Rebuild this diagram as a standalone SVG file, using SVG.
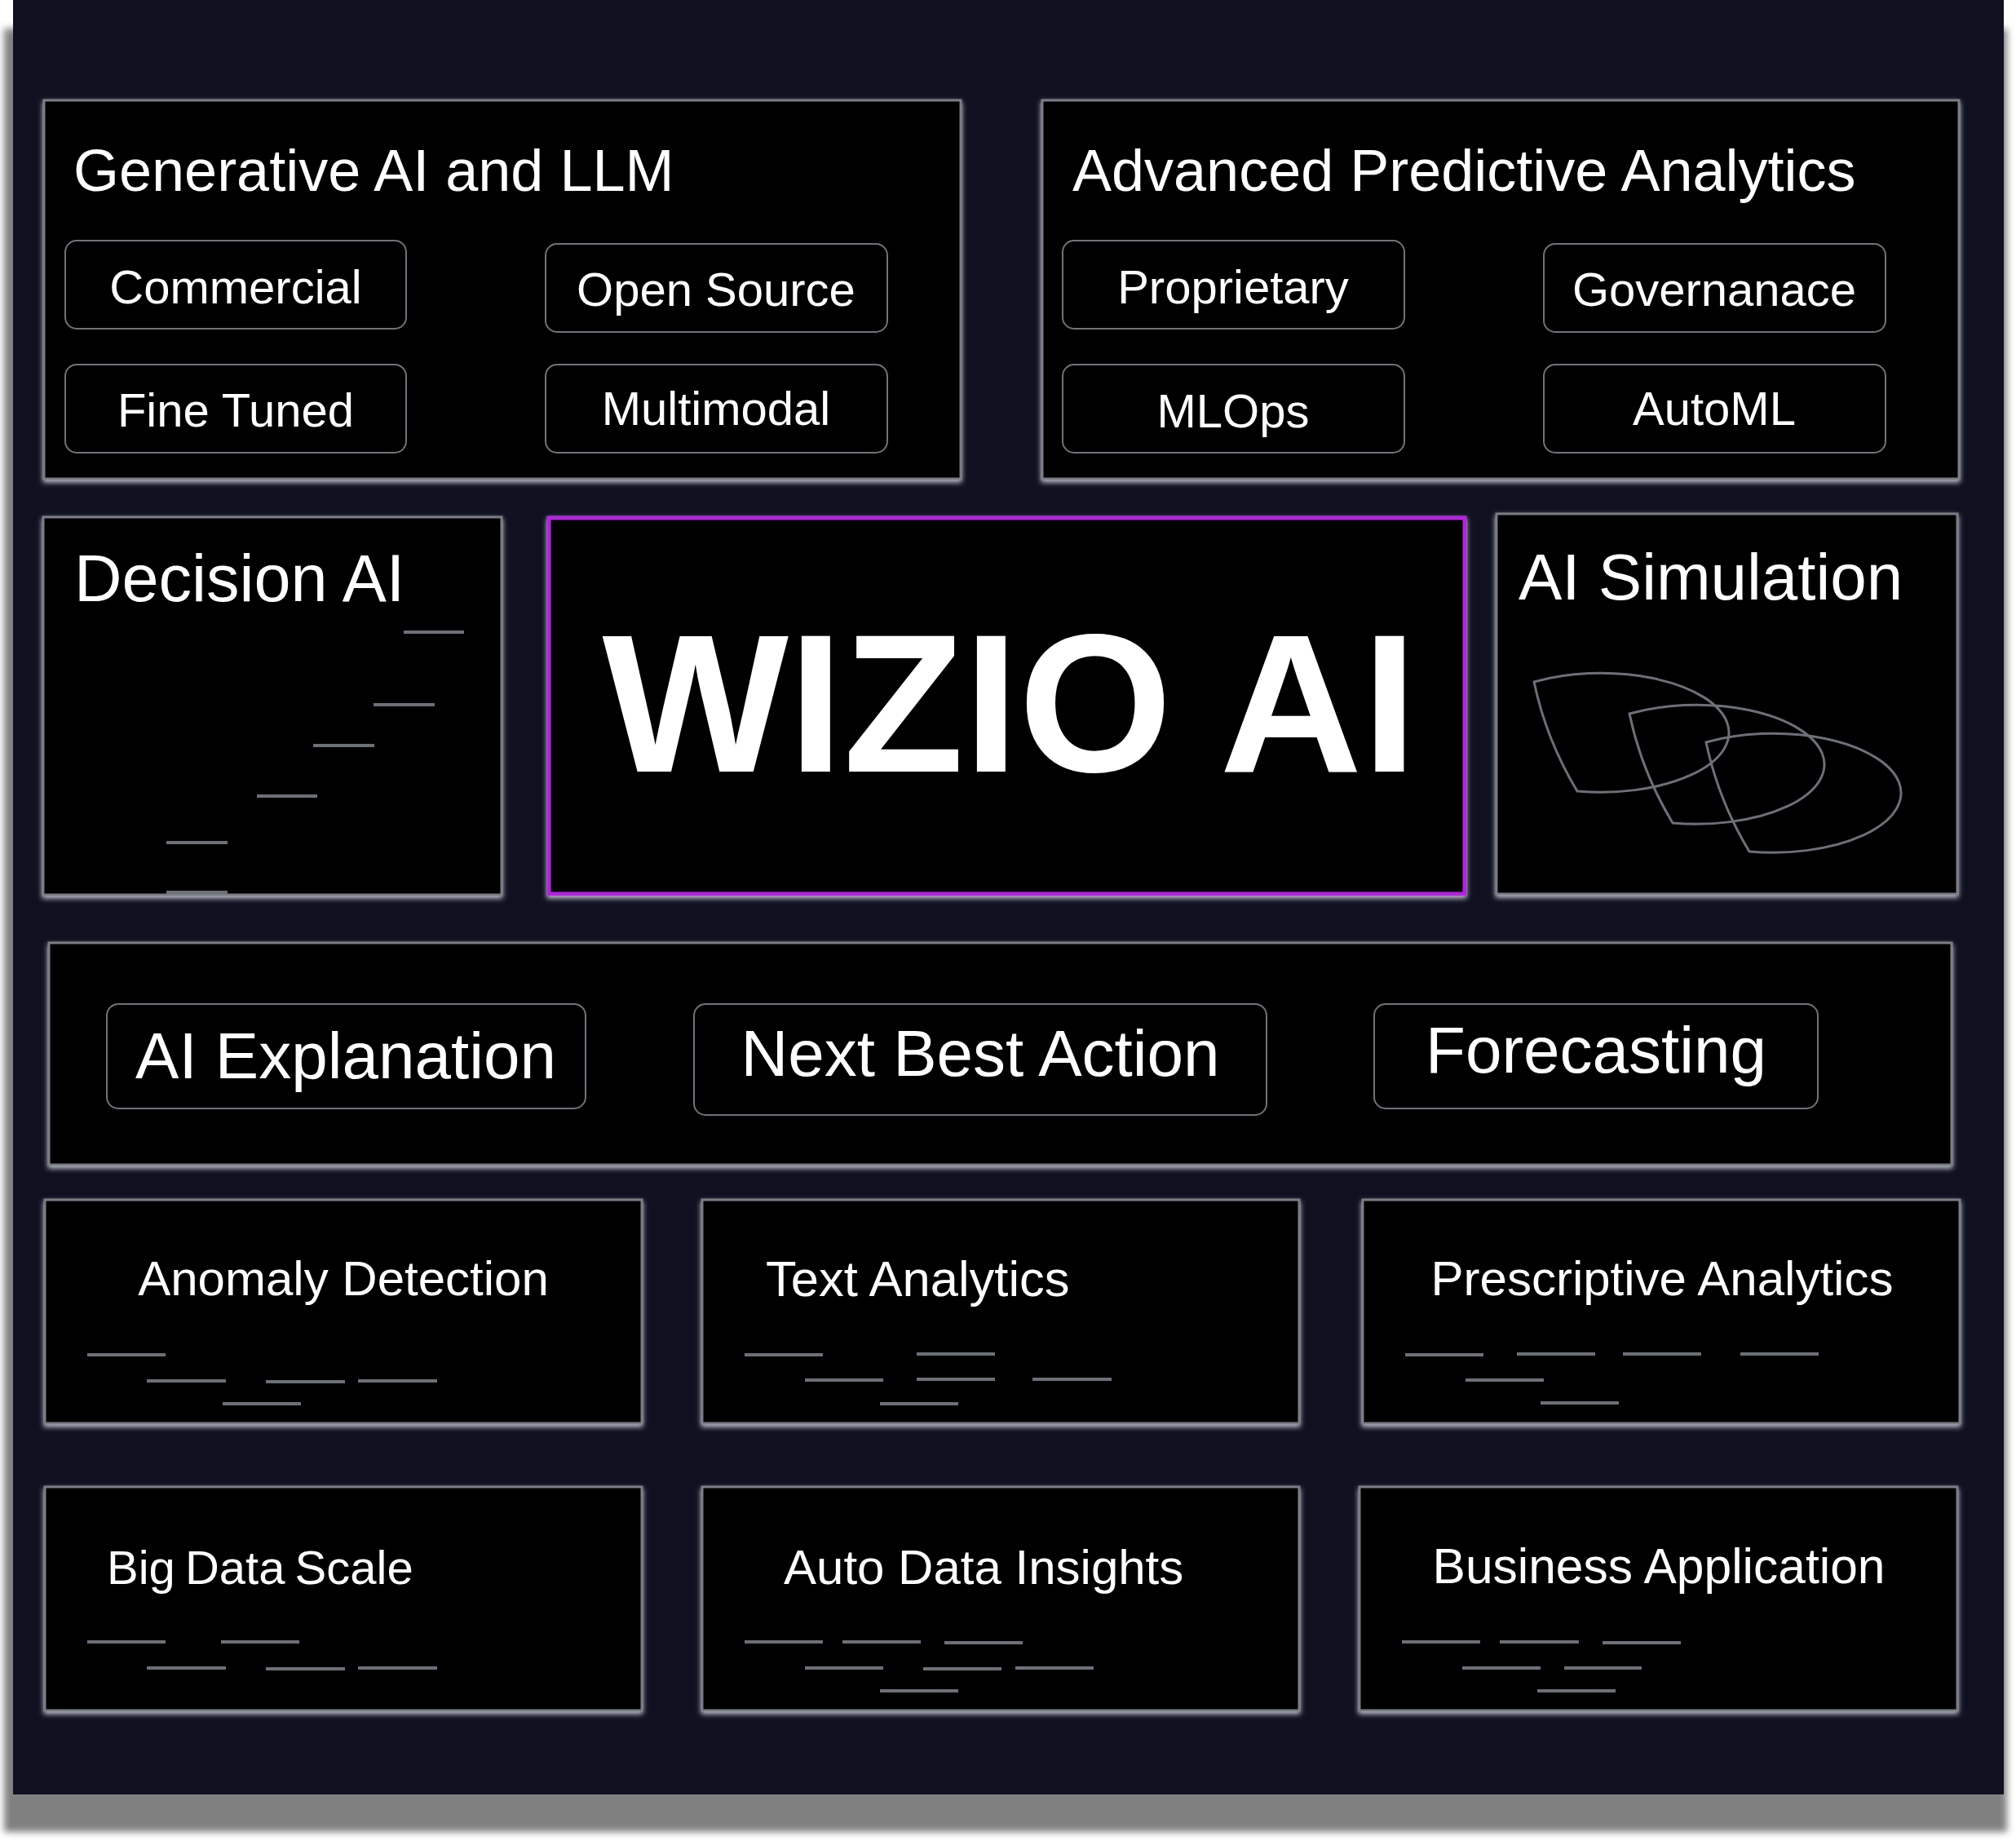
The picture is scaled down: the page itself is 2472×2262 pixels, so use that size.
<svg xmlns="http://www.w3.org/2000/svg" xmlns:xlink="http://www.w3.org/1999/xlink" width="2472" height="2262" viewBox="0 0 2472 2262">
<defs>
<filter id="panelShadow" x="-5%" y="-5%" width="110%" height="110%">
<feGaussianBlur stdDeviation="4"/>
</filter>
<filter id="glow" x="-5%" y="-10%" width="110%" height="125%">
<feDropShadow dx="0" dy="3" stdDeviation="3" flood-color="#e2e3ee" flood-opacity="0.85"/>
</filter>
<path id="leaf" d="M1881 836 A157 73 0 1 1 1934 970 Q1896 907 1881 836 Z"/>
<style>
.box{fill:#000002;stroke:#7a7d84;stroke-width:3;filter:url(#glow)}
.sub{fill:#000;stroke:#707378;stroke-width:2}
.t{font-family:"Liberation Sans",Arial,Helvetica,sans-serif;fill:#ffffff}
.h1{font-size:72px}
.h2{font-size:80px}
.h3{font-size:60px}
.s{font-size:58px;text-anchor:middle}
.m{text-anchor:middle}
.dash{stroke:#6c7077;stroke-width:4}
.leaf{fill:none;stroke:#6c7077;stroke-width:3}
</style>
</defs>
<rect x="5" y="35" width="2456" height="2211" fill="#808080" filter="url(#panelShadow)"/>
<rect x="16" y="0" width="2441" height="2200" fill="#0f1020"/>

<g id="generative-ai">
<rect class="box" x="54" y="123" width="1124" height="464"/>
<text class="t h1" x="90" y="234" font-size="72.5">Generative AI and LLM</text>
<g id="commercial"><rect class="sub" x="80" y="295" width="418" height="108" rx="14"/><text class="t s" x="289" y="372">Commercial</text></g>
<g id="open-source"><rect class="sub" x="669" y="299" width="419" height="108" rx="14"/><text class="t s" x="878" y="375">Open Source</text></g>
<g id="fine-tuned"><rect class="sub" x="80" y="447" width="418" height="108" rx="14"/><text class="t s" x="289" y="523">Fine Tuned</text></g>
<g id="multimodal"><rect class="sub" x="669" y="447" width="419" height="108" rx="14"/><text class="t s" x="878" y="521">Multimodal</text></g>
</g>

<g id="predictive-analytics">
<rect class="box" x="1278" y="123" width="1124" height="464"/>
<text class="t h1" x="1315" y="234">Advanced Predictive Analytics</text>
<g id="proprietary"><rect class="sub" x="1303" y="295" width="419" height="108" rx="14"/><text class="t s" x="1512" y="372">Proprietary</text></g>
<g id="governanace"><rect class="sub" x="1893" y="299" width="419" height="108" rx="14"/><text class="t s" x="2102" y="375">Governanace</text></g>
<g id="mlops"><rect class="sub" x="1303" y="447" width="419" height="108" rx="14"/><text class="t s" x="1512" y="524">MLOps</text></g>
<g id="automl"><rect class="sub" x="1893" y="447" width="419" height="108" rx="14"/><text class="t s" x="2102" y="521">AutoML</text></g>
</g>

<g id="decision-ai">
<rect class="box" x="53" y="634" width="562" height="463"/>
<text class="t" x="91" y="737" font-size="81">Decision AI</text>
<line class="dash" x1="495" y1="775" x2="569" y2="775"/>
<line class="dash" x1="458" y1="864" x2="533" y2="864"/>
<line class="dash" x1="384" y1="914" x2="459" y2="914"/>
<line class="dash" x1="315" y1="976" x2="389" y2="976"/>
<line class="dash" x1="204" y1="1033" x2="279" y2="1033"/>
<line class="dash" x1="204" y1="1094" x2="279" y2="1094"/>
</g>

<g id="wizio-ai">
<rect x="673" y="635" width="1123" height="461" fill="#000002" stroke="#b424e0" stroke-width="5" filter="url(#glow)"/>
<text class="t m" x="1238" y="946" font-size="242" font-weight="bold">WIZIO AI</text>
</g>

<g id="ai-simulation">
<rect class="box" x="1835" y="630" width="565" height="466"/>
<text class="t h2" x="1862" y="735">AI Simulation</text>
<use class="leaf" xlink:href="#leaf" href="#leaf"/>
<use class="leaf" xlink:href="#leaf" href="#leaf" transform="translate(117 39)"/>
<use class="leaf" xlink:href="#leaf" href="#leaf" transform="translate(211 74)"/>
</g>

<g id="capabilities">
<rect class="box" x="60" y="1156" width="2333" height="272"/>
<g id="ai-explanation"><rect class="sub" x="131" y="1231" width="587" height="128" rx="14"/><text class="t h2 m" x="424" y="1322">AI Explanation</text></g>
<g id="next-best-action"><rect class="sub" x="851" y="1231" width="702" height="136" rx="14"/><text class="t h2 m" x="1202" y="1319">Next Best Action</text></g>
<g id="forecasting"><rect class="sub" x="1685" y="1231" width="544" height="128" rx="14"/><text class="t h2 m" x="1957" y="1315">Forecasting</text></g>
</g>

<g id="anomaly-detection">
<rect class="box" x="55" y="1471" width="732" height="274"/>
<text class="t h3 m" x="421" y="1588">Anomaly Detection</text>
<line class="dash" x1="107" y1="1661" x2="203" y2="1661"/>
<line class="dash" x1="180" y1="1693" x2="277" y2="1693"/>
<line class="dash" x1="326" y1="1694" x2="423" y2="1694"/>
<line class="dash" x1="439" y1="1693" x2="536" y2="1693"/>
<line class="dash" x1="273" y1="1721" x2="369" y2="1721"/>
</g>

<g id="text-analytics">
<rect class="box" x="861" y="1471" width="732" height="274"/>
<text class="t" x="939" y="1589" font-size="61.5">Text Analytics</text>
<line class="dash" x1="913" y1="1661" x2="1009" y2="1661"/>
<line class="dash" x1="1124" y1="1660" x2="1220" y2="1660"/>
<line class="dash" x1="987" y1="1692" x2="1083" y2="1692"/>
<line class="dash" x1="1124" y1="1691" x2="1220" y2="1691"/>
<line class="dash" x1="1266" y1="1691" x2="1363" y2="1691"/>
<line class="dash" x1="1079" y1="1721" x2="1175" y2="1721"/>
</g>

<g id="prescriptive-analytics">
<rect class="box" x="1671" y="1471" width="732" height="274"/>
<text class="t h3 m" x="2038" y="1588" font-size="60.5">Prescriptive Analytics</text>
<line class="dash" x1="1723" y1="1661" x2="1819" y2="1661"/>
<line class="dash" x1="1860" y1="1660" x2="1956" y2="1660"/>
<line class="dash" x1="1990" y1="1660" x2="2086" y2="1660"/>
<line class="dash" x1="2134" y1="1660" x2="2230" y2="1660"/>
<line class="dash" x1="1797" y1="1692" x2="1893" y2="1692"/>
<line class="dash" x1="1889" y1="1720" x2="1985" y2="1720"/>
</g>

<g id="big-data-scale">
<rect class="box" x="55" y="1823" width="732" height="274"/>
<text class="t" x="131" y="1942" font-size="58" word-spacing="-4">Big Data Scale</text>
<line class="dash" x1="107" y1="2013" x2="203" y2="2013"/>
<line class="dash" x1="271" y1="2013" x2="367" y2="2013"/>
<line class="dash" x1="180" y1="2045" x2="277" y2="2045"/>
<line class="dash" x1="326" y1="2046" x2="423" y2="2046"/>
<line class="dash" x1="439" y1="2045" x2="536" y2="2045"/>
</g>

<g id="auto-data-insights">
<rect class="box" x="861" y="1823" width="732" height="274"/>
<text class="t" x="961" y="1942" font-size="60">Auto Data Insights</text>
<line class="dash" x1="913" y1="2013" x2="1009" y2="2013"/>
<line class="dash" x1="1033" y1="2013" x2="1129" y2="2013"/>
<line class="dash" x1="1158" y1="2014" x2="1254" y2="2014"/>
<line class="dash" x1="987" y1="2045" x2="1083" y2="2045"/>
<line class="dash" x1="1132" y1="2046" x2="1228" y2="2046"/>
<line class="dash" x1="1245" y1="2045" x2="1341" y2="2045"/>
<line class="dash" x1="1079" y1="2073" x2="1175" y2="2073"/>
</g>

<g id="business-application">
<rect class="box" x="1667" y="1823" width="733" height="274"/>
<text class="t m" x="2034" y="1941" font-size="60.5">Business Application</text>
<line class="dash" x1="1719" y1="2013" x2="1815" y2="2013"/>
<line class="dash" x1="1839" y1="2013" x2="1936" y2="2013"/>
<line class="dash" x1="1965" y1="2014" x2="2061" y2="2014"/>
<line class="dash" x1="1793" y1="2045" x2="1889" y2="2045"/>
<line class="dash" x1="1918" y1="2045" x2="2013" y2="2045"/>
<line class="dash" x1="1885" y1="2073" x2="1981" y2="2073"/>
</g>

<g id="connectors"/>
</svg>
